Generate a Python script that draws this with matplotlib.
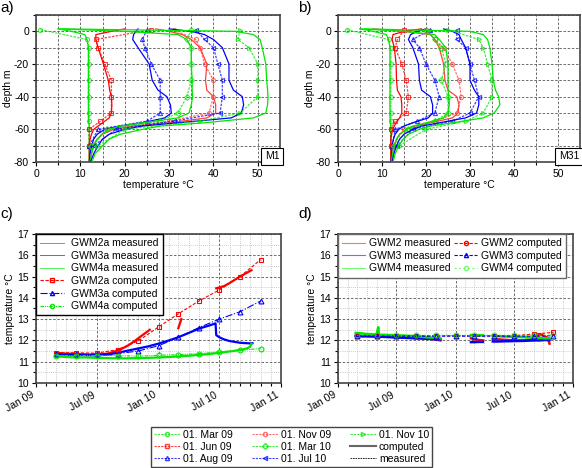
import matplotlib
matplotlib.use("Agg")
import matplotlib.pyplot as plt
import matplotlib.dates as mdates
from matplotlib.lines import Line2D
from matplotlib.ticker import MultipleLocator
import numpy as np
import pandas as pd

plt.rcParams['font.family'] = ['Liberation Sans', 'DejaVu Sans']
plt.rcParams['font.size'] = 7.5
plt.rcParams['axes.unicode_minus'] = False

GREEN = '#00e600'
RED = '#ff0000'
BLUE = '#0000ff'

# ---- depth profiles (panels a, b) ----
profile_labels = ["01. Mar 09", "01. Jun 09", "01. Aug 09", "01. Nov 09",
                  "01. Mar 10", "01. Jul 10", "01. Nov 10"]

comp_depth = [1.5, 0, -2, -5, -10, -20, -30, -36, -40, -45, -50, -53, -56, -58,
              -60, -63, -66, -70, -75, -80]
meas_depth = [1, -5, -10, -20, -30, -40, -50, -55, -60, -70]

# M1 computed
m1_comp = [
    [5, 8, 11, 11.5, 11.8, 11.8, 11.8, 11.8, 11.8, 11.8, 11.8, 11.8, 11.9, 12, 12, 12, 12, 12, 12, 12],
    [20, 17, 13.5, 13.5, 14, 15.2, 16.3, 16.6, 17, 17.1, 17, 16.5, 15, 14, 13, 12.5, 12.2, 12, 12, 12],
    [23, 22.5, 22, 21.8, 23, 25.5, 26.2, 27.5, 29.5, 30.3, 30.5, 29, 24, 19, 15.5, 13.8, 13, 12.5, 12.2, 12],
    [27, 30, 33, 35, 37, 38.5, 38.2, 38.5, 40, 40.5, 40.5, 38.5, 30, 22, 17.5, 15, 13.8, 13, 12.5, 12.2],
    [5, 20, 32, 34, 35, 35, 35.2, 35.2, 35.3, 35, 34.5, 32, 24, 19, 16.5, 14.8, 13.8, 13, 12.5, 12.2],
    [30, 35, 38, 40, 42, 43.5, 43.5, 44.5, 46.5, 46.8, 46.3, 44, 32, 24, 20, 16.5, 15, 14, 13, 12.3],
    [6, 45, 49, 50.5, 51, 51.8, 52, 52.2, 52.3, 52.2, 51.8, 49, 38, 28, 24, 19, 16.5, 15, 13.3, 12.6],
]
# M1 measured
m1_meas = [
    [1, 11.5, 12, 12, 12, 12, 12, 12, 12, 12],
    [26, 13.5, 14, 15.5, 17, 17, 17, 14.5, 12, 12],
    [25, 24, 24.5, 26, 28, 28, 28, 25, 14, 12],
    [31, 36, 37, 38, 40, 40, 39, 30, 16, 12.5],
    [35, 34, 35, 35, 35, 34, 32, 28, 16, 12.5],
    [36, 38, 40, 41, 42, 42, 41.5, 31, 18, 13],
    [46, 45.5, 48, 50, 50, 50, 46, 37, 20, 14],
]
# M31 computed
m31_comp = [
    [5, 8, 11, 11.5, 11.8, 11.8, 11.8, 11.8, 11.8, 11.8, 11.8, 11.8, 11.9, 12, 12, 12, 12, 12, 12, 12],
    [19, 15, 12.5, 12.3, 12.8, 13.2, 13.3, 13.5, 14.3, 14.5, 14.5, 14, 13.2, 12.8, 12.4, 12.2, 12, 12, 12, 12],
    [20, 18, 16.5, 16, 17, 18.3, 18.5, 19, 21, 21.5, 21.5, 20.5, 17, 15, 13.8, 13, 12.6, 12.3, 12.2, 12.1],
    [8, 15, 21, 22, 23, 24, 24.3, 25, 27, 27.5, 27.3, 26, 21, 17.5, 15.5, 14, 13.3, 12.8, 12.4, 12.2],
    [5, 15, 22, 23, 24.5, 25, 25, 25, 25.2, 25.3, 25, 24, 20, 17, 15.5, 14, 13.3, 12.8, 12.4, 12.2],
    [24, 26, 27.5, 28, 29, 30, 30, 31, 32, 32, 31.5, 29, 23, 19, 17, 15, 14, 13.3, 12.7, 12.3],
    [6, 30, 33, 34, 34.5, 35, 35.3, 35.8, 36.5, 36.8, 35.5, 33, 26, 21, 18.5, 16, 14.8, 13.8, 13, 12.5],
]
# M31 measured
m31_meas = [
    [2, 11.5, 12, 12, 12, 12, 12, 12, 12, 12],
    [15, 13.5, 13, 14.5, 15.5, 16, 15.5, 13, 12, 12],
    [21, 17, 18.5, 20, 22, 23, 22, 18, 13, 12.3],
    [20, 22, 24, 26, 27.5, 28, 27, 22, 15, 12.5],
    [20, 22, 23.5, 24.5, 23.5, 25, 25, 22, 16, 12.8],
    [27, 27, 29, 30, 31, 32, 30, 26, 17, 13.5],
    [25, 32, 33, 34, 35, 35, 33, 29, 20, 14],
]

profile_colors = [GREEN, RED, BLUE, '#ff4040', GREEN, BLUE, GREEN]
profile_markers = ['o', 's', '^', 'o', 'D', '<', '>']

# ---- time series (panels c, d) ----
comp_dates = ['2009-03-01', '2009-05-01', '2009-07-01', '2009-09-01', '2009-11-01', '2010-01-01',
              '2010-03-01', '2010-05-01', '2010-07-01', '2010-09-01', '2010-11-01']
gwm2a_comp = [11.42, 11.42, 11.40, 11.57, 11.97, 12.63, 13.25, 13.85, 14.37, 15.0, 15.79]
gwm3a_comp = [11.35, 11.35, 11.35, 11.38, 11.5, 11.75, 12.14, 12.6, 13.0, 13.35, 13.85]
gwm4a_comp = [11.29, 11.29, 11.29, 11.29, 11.26, 11.3, 11.33, 11.38, 11.46, 11.54, 11.62]

gwm2a_dates = ['2009-03-01', '2009-04-01', '2009-05-01', '2009-06-01', '2009-07-01', '2009-08-01',
               '2009-08-20', '2009-09-10', '2009-10-01', '2009-10-20', '2009-11-10', '2009-12-06',
               '2009-12-07', '2010-03-01', '2010-03-10', '2010-03-11',
               '2010-06-22', '2010-07-15', '2010-08-01', '2010-09-01', '2010-10-05']
gwm2a_meas = [11.42, 11.38, 11.36, 11.34, 11.34, 11.38, 11.46, 11.58, 11.75, 11.95, 12.2, 12.5,
              np.nan, 12.57, 13.0, np.nan,
              14.45, 14.55, 14.7, 15.0, 15.3]

gwm3a_dates = ['2009-03-01', '2009-04-01', '2009-05-01', '2009-06-01', '2009-07-01', '2009-08-01',
               '2009-09-01', '2009-10-01', '2009-11-01', '2009-12-01', '2010-01-01', '2010-02-01',
               '2010-03-01', '2010-04-01', '2010-05-01', '2010-06-01', '2010-06-20', '2010-06-22',
               '2010-07-01', '2010-07-15', '2010-08-01', '2010-09-01', '2010-10-01', '2010-10-08']
gwm3a_meas = [11.35, 11.33, 11.32, 11.3, 11.3, 11.33, 11.42, 11.52, 11.62, 11.72, 11.85, 12.0,
              12.15, 12.35, 12.55, 12.7, 12.8, 12.25, 12.15, 12.05, 11.97, 11.89, 11.86, 11.87]

gwm4a_dates = ['2009-03-01', '2009-04-01', '2009-05-01', '2009-06-01', '2009-07-01', '2009-08-01',
               '2009-09-01', '2009-10-01', '2009-11-01', '2009-12-01', '2010-01-01', '2010-02-01',
               '2010-03-01', '2010-04-01', '2010-05-01', '2010-06-01', '2010-07-01', '2010-08-01',
               '2010-09-01', '2010-09-20', '2010-10-01', '2010-10-05']
gwm4a_meas = [11.25, 11.22, 11.2, 11.2, 11.18, 11.17, 11.16, 11.16, 11.17, 11.18, 11.2, 11.22,
              11.25, 11.28, 11.32, 11.36, 11.42, 11.48, 11.55, 11.62, 11.7, 11.85]

gwm2_comp = [12.22, 12.22, 12.22, 12.22, 12.22, 12.22, 12.22, 12.22, 12.22, 12.3, 12.38]
gwm3_comp = [12.2, 12.2, 12.2, 12.2, 12.2, 12.2, 12.2, 12.2, 12.2, 12.2, 12.22]
gwm4_comp = [12.24, 12.24, 12.24, 12.24, 12.24, 12.24, 12.24, 12.24, 12.24, 12.24, 12.26]

d_meas_dates = ['2009-02-25', '2009-03-15', '2009-04-01', '2009-05-01', '2009-05-06', '2009-05-08',
                '2009-06-01', '2009-07-01', '2009-08-01', '2009-09-01', '2009-10-01', '2009-11-01',
                '2009-11-15', '2009-11-16',
                '2010-02-18', '2010-03-01', '2010-03-15', '2010-03-27', '2010-03-28',
                '2010-04-27', '2010-05-15', '2010-06-01', '2010-07-01', '2010-08-01', '2010-09-01',
                '2010-09-20', '2010-10-05', '2010-10-15', '2010-10-20']
gwm2_meas = [12.2, 12.2, 12.2, 12.2, 12.2, 12.2, 12.2, 12.18, 12.16, 12.15, 12.1, 12.05, 12.0, np.nan,
             12.1, 12.05, 12.02, 12.0, np.nan,
             12.05, 12.05, 12.03, 12.0, 12.0, 12.05, 12.3, 12.2, 12.1, 11.85]
gwm3_meas = [12.22, 12.2, 12.2, 12.18, 12.18, 12.18, 12.16, 12.14, 12.12, 12.1, 12.08, 12.05, 12.05, np.nan,
             11.92, 11.92, 11.93, 11.93, np.nan,
             11.95, 11.95, 11.96, 11.97, 11.98, 12.0, 12.0, 12.02, 12.02, 12.02]
gwm4_meas = [12.35, 12.33, 12.3, 12.28, 12.62, 12.27, 12.26, 12.24, 12.22, 12.2, 12.15, 12.12, 12.1, np.nan,
             12.25, 12.25, 12.24, 12.24, np.nan,
             12.2, 12.2, 12.18, 12.17, 12.15, 12.13, 12.12, 12.1, 12.1, 12.1]

W, H = 582, 468
fig = plt.figure(figsize=(W / 100, H / 100), dpi=100)


def box(x0, x1, y0, y1):
    return [x0 / W, 1 - y1 / H, (x1 - x0) / W, (y1 - y0) / H]


def style_axes(ax):
    for sp in ax.spines.values():
        sp.set_color('#444444')
        sp.set_linewidth(1.2)
    ax.tick_params(which='both', direction='out', length=3, width=0.8, top=False, right=False, pad=2)
    ax.tick_params(which='minor', length=2)


def profile_panel(ax, comp, meas, tag):
    for i in range(len(profile_labels)):
        ax.plot(comp[i], comp_depth, color=profile_colors[i], lw=0.9, zorder=3)
        ax.plot(meas[i], meas_depth, color=profile_colors[i], lw=0.9, ls=(0, (2, 1)),
                marker=profile_markers[i], ms=3, mfc='none', mew=0.8, alpha=0.75, zorder=3)
    ax.set_xlim(0, 55)
    ax.set_ylim(-80, 10)
    ax.xaxis.set_major_locator(MultipleLocator(10))
    ax.xaxis.set_minor_locator(MultipleLocator(5))
    ax.yaxis.set_major_locator(MultipleLocator(20))
    ax.yaxis.set_minor_locator(MultipleLocator(10))
    ax.grid(which='both', color='#555555', ls=(0, (3, 2)), lw=0.6)
    ax.set_axisbelow(True)
    ax.set_xlabel("temperature °C", labelpad=1)
    ax.set_ylabel("depth m", labelpad=1)
    ax.text(0.997, 0.005, tag, transform=ax.transAxes, ha='right', va='bottom', fontsize=7.5, zorder=5,
            bbox=dict(boxstyle='square,pad=0.35', fc='white', ec='black', lw=0.8))
    style_axes(ax)


def time_panel(ax):
    ax.set_xlim(pd.Timestamp('2009-01-01'), pd.Timestamp('2011-01-01'))
    ax.set_ylim(10, 17)
    ax.xaxis.set_major_locator(mdates.MonthLocator(bymonth=[1, 7]))
    ax.xaxis.set_minor_locator(mdates.MonthLocator())
    ax.xaxis.set_major_formatter(mdates.DateFormatter('%b %y'))
    ax.yaxis.set_major_locator(MultipleLocator(1))
    ax.yaxis.set_minor_locator(MultipleLocator(0.5))
    ax.grid(which='major', color='#555555', ls=(0, (3, 2)), lw=0.6)
    ax.grid(which='minor', color='#bbbbbb', ls=(0, (1, 1.5)), lw=0.6)
    ax.set_axisbelow(True)
    ax.set_ylabel("temperature °C", labelpad=2)
    for lab in ax.get_xticklabels():
        lab.set_rotation(30)
        lab.set_ha('right')
    style_axes(ax)


ax_a = fig.add_axes(box(36, 280, 15, 162))
profile_panel(ax_a, m1_comp, m1_meas, "M1")
ax_b = fig.add_axes(box(338, 580, 15, 162))
profile_panel(ax_b, m31_comp, m31_meas, "M31")

# panel c
ax_c = fig.add_axes(box(36, 281, 234, 383))
cd = pd.to_datetime(comp_dates)
ax_c.plot(pd.to_datetime(gwm2a_dates), gwm2a_meas, color=RED, lw=1.6, zorder=3)
ax_c.plot(pd.to_datetime(gwm3a_dates), gwm3a_meas, color=BLUE, lw=1.6, zorder=3)
ax_c.plot(pd.to_datetime(gwm4a_dates), gwm4a_meas, color=GREEN, lw=1.6, zorder=3)
ax_c.plot(cd, gwm2a_comp, color=RED, lw=0.8, ls=(0, (3, 1.5)), marker='s', ms=3.5, mfc='none', mew=0.8, zorder=4)
ax_c.plot(cd, gwm3a_comp, color=BLUE, lw=0.8, ls='-.', marker='^', ms=3.5, mfc='none', mew=0.8, zorder=4)
ax_c.plot(cd, gwm4a_comp, color=GREEN, lw=0.8, ls=(0, (3, 1, 1, 1, 1, 1)), marker='o', ms=3.5, mfc='none',
          mew=0.8, zorder=4)
time_panel(ax_c)
c_handles = [
    Line2D([], [], color='#ff6060', lw=0.7),
    Line2D([], [], color='#6060ff', lw=0.7),
    Line2D([], [], color='#60f060', lw=0.7),
    Line2D([], [], color=RED, lw=0.8, ls=(0, (3, 1.5)), marker='s', ms=3, mfc='none'),
    Line2D([], [], color=BLUE, lw=0.8, ls='-.', marker='^', ms=3, mfc='none'),
    Line2D([], [], color=GREEN, lw=0.8, ls=(0, (3, 1, 1, 1, 1, 1)), marker='o', ms=3, mfc='none'),
]
c_labels = ["GWM2a measured", "GWM3a measured", "GWM4a measured",
            "GWM2a computed", "GWM3a computed", "GWM4a computed"]
leg = ax_c.legend(c_handles, c_labels, loc='upper left', bbox_to_anchor=(0, 1), borderaxespad=0,
                  fancybox=False, edgecolor='black', framealpha=1, fontsize=7.5, handlelength=2.3,
                  labelspacing=0.25, borderpad=0.4, handletextpad=0.7)
leg.get_frame().set_linewidth(1.0)
leg.set_zorder(10)

# panel d
ax_d = fig.add_axes(box(338, 573, 234, 383))
dd = pd.to_datetime(d_meas_dates)
ax_d.plot(dd, gwm2_meas, color=RED, lw=1.8, zorder=3)
ax_d.plot(dd, gwm3_meas, color=BLUE, lw=1.8, zorder=3)
ax_d.plot(dd, gwm4_meas, color=GREEN, lw=1.8, zorder=3)
ax_d.plot(cd, gwm2_comp, color=RED, lw=0.8, ls=(0, (3, 1.5)), marker='s', ms=3.5, mfc='none', mew=0.8, zorder=4)
ax_d.plot(cd, gwm3_comp, color=BLUE, lw=0.8, ls=(0, (3, 1.5)), marker='^', ms=3.5, mfc='none', mew=0.8, zorder=4)
ax_d.plot(cd, gwm4_comp, color=GREEN, lw=0.8, ls=(0, (2, 2)), marker='o', ms=3.5, mfc='none', mew=0.8,
          alpha=0.7, zorder=4)
time_panel(ax_d)
d_handles = [
    Line2D([], [], color='#ff7070', lw=0.8),
    Line2D([], [], color='#7070ff', lw=0.8),
    Line2D([], [], color='#70ff70', lw=0.8),
    Line2D([], [], color=RED, lw=0.8, ls=(0, (3, 1.5)), marker='o', ms=3, mfc='none'),
    Line2D([], [], color=BLUE, lw=0.8, ls=(0, (3, 1.5)), marker='^', ms=3, mfc='none'),
    Line2D([], [], color='#70ff70', lw=0.8, ls=(0, (2, 2)), marker='o', ms=3, mfc='none'),
]
d_labels = ["GWM2 measured", "GWM3 measured", "GWM4 measured",
            "GWM2 computed", "GWM3 computed", "GWM4 computed"]
leg = ax_d.legend(d_handles, d_labels, loc='upper left', bbox_to_anchor=(0, 1), borderaxespad=0, ncol=2,
                  fancybox=False, edgecolor='#666666', framealpha=1, fontsize=7.5, handlelength=2.2,
                  labelspacing=0.25, borderpad=0.4, handletextpad=0.4, columnspacing=0.3)
leg.get_frame().set_linewidth(1.0)
leg.set_zorder(10)

# bottom legend
b_handles = []
for i in range(len(profile_labels)):
    b_handles.append(Line2D([], [], color=profile_colors[i], lw=0.8, ls=(0, (2, 1)), marker=profile_markers[i],
                            ms=3, mfc='none', alpha=0.75))
b_handles.append(Line2D([], [], color='#666666', lw=1.5))
b_handles.append(Line2D([], [], color='black', lw=0.6, ls=(0, (2, 1))))
b_labels = profile_labels + ["computed", "measured"]
leg = fig.legend(b_handles, b_labels, loc='center', bbox_to_anchor=(291.5 / W, 1 - 447 / H), ncol=3,
                 fancybox=False, edgecolor='#444444', framealpha=1, fontsize=7.5, handlelength=2.5,
                 labelspacing=0.2, borderpad=0.3, handletextpad=0.3, columnspacing=1.8)
leg.get_frame().set_linewidth(1.0)

fig.text(0 / W, 1 - 1 / H, "a)", fontsize=11, va='top', ha='left')
fig.text(298 / W, 1 - 1 / H, "b)", fontsize=11, va='top', ha='left')
fig.text(0 / W, 1 - 207 / H, "c)", fontsize=11, va='top', ha='left')
fig.text(298 / W, 1 - 207 / H, "d)", fontsize=11, va='top', ha='left')

fig.savefig("out.png", dpi=100)
